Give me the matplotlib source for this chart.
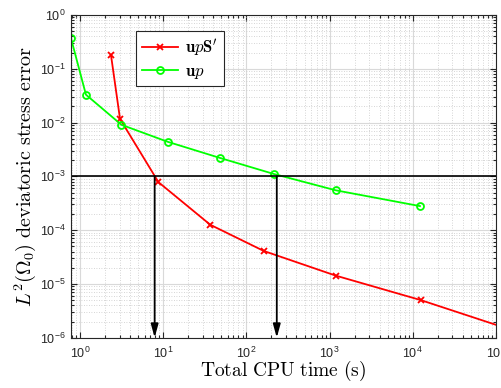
import matplotlib
matplotlib.use("Agg")
import matplotlib.pyplot as plt
import numpy as np

plt.rcParams['mathtext.fontset'] = 'cm'
plt.rcParams['font.family'] = ['Liberation Sans', 'DejaVu Sans']

# CPU time (s) and L2 deviatoric stress error for the two formulations
cpu_upS = [2.36, 3.03, 8.78, 36.8, 162, 1181, 12500, 125000]
err_upS = [0.18, 0.0117, 7.8e-4, 1.26e-4, 4.1e-5, 1.43e-5, 5.0e-6, 1.55e-6]

cpu_up = [0.78, 1.18, 3.15, 11.3, 48.2, 213, 1190, 12200]
err_up = [0.37, 0.033, 0.0091, 0.0044, 0.0022, 0.00111, 5.5e-4, 2.8e-4]

target_error = 1e-3
arrow_times = [7.9, 232]

fig = plt.figure(figsize=(5.02, 3.88), dpi=100)
ax = fig.add_axes([0.1414, 0.1296, 0.8466, 0.8317])

ax.set_xscale('log')
ax.set_yscale('log')
ax.set_xlim(0.78, 1e5)
ax.set_ylim(1e-6, 1)

ax.grid(True, which='major', color='#d9d9d9', lw=0.8, ls='-')
ax.grid(True, which='minor', color='#c8c8c8', lw=0.6, ls=(0, (1, 2)))
ax.set_axisbelow(True)

ax.plot(cpu_upS, err_upS, color=(1, 0, 0), lw=1.3, marker='x', ms=4, mew=1.3,
        label=r"$\mathbf{u}p\mathbf{S}'$")
ax.plot(cpu_up, err_up, color=(0, 1, 0), lw=1.3, marker='o', ms=5, mew=1.3,
        mfc='none', label=r"$\mathbf{u}p$")

ax.axhline(target_error, color='black', lw=1.2)
for t in arrow_times:
    ax.annotate('', xy=(t, 1e-6), xytext=(t, target_error),
                arrowprops=dict(arrowstyle='-|>,head_length=0.8,head_width=0.22',
                                color='black', lw=1.3, shrinkA=0, shrinkB=0))

ax.tick_params(which='both', direction='in', top=True, right=True,
               colors='#262626', labelsize=9, width=0.8)
ax.tick_params(which='major', length=4)
ax.tick_params(which='minor', length=2)
ax.tick_params(axis='x', which='major', pad=6)
ax.tick_params(axis='y', which='major', pad=4)
ax.xaxis.set_major_locator(matplotlib.ticker.LogLocator(base=10, numticks=10))
ax.xaxis.set_minor_locator(matplotlib.ticker.LogLocator(base=10, subs=np.arange(2, 10), numticks=20))
ax.yaxis.set_minor_locator(matplotlib.ticker.LogLocator(base=10, subs=np.arange(2, 10), numticks=20))
ax.xaxis.set_minor_formatter(matplotlib.ticker.NullFormatter())
ax.yaxis.set_minor_formatter(matplotlib.ticker.NullFormatter())
for s in ax.spines.values():
    s.set_color('#262626')
    s.set_linewidth(0.8)

ax.set_xlabel(r'$\mathrm{Total\ CPU\ time\ (s)}$', fontsize=14, labelpad=-2)
ax.set_ylabel(r'$L^2(\Omega_0)\ \mathrm{deviatoric\ stress\ error}$', fontsize=14.5, labelpad=1)

leg = ax.legend(loc='upper left', bbox_to_anchor=(0.133, 0.975), fontsize=12,
                fancybox=False, edgecolor='#262626', framealpha=1,
                handlelength=2.2, borderpad=0.35, labelspacing=0.3, handletextpad=0.4)
leg.get_frame().set_linewidth(0.8)

fig.savefig('out.png', dpi=100)
